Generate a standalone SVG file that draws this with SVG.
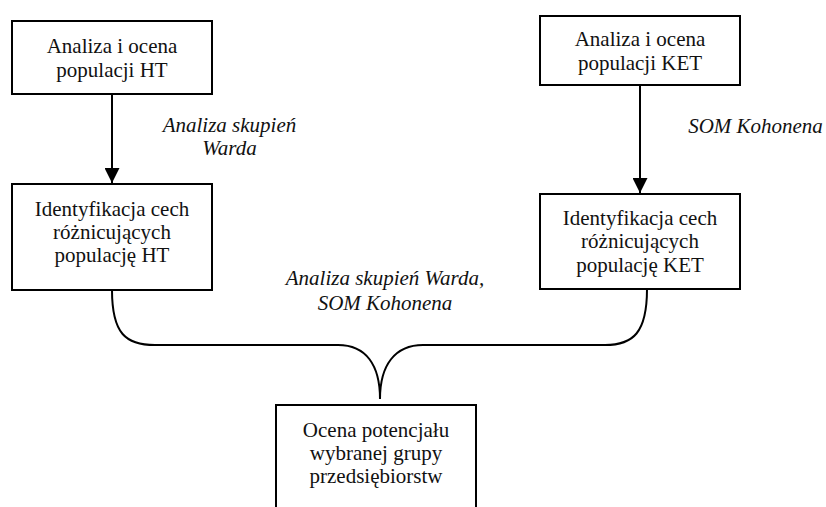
<svg xmlns="http://www.w3.org/2000/svg" width="826" height="507" viewBox="0 0 826 507">
<style>
.box{fill:#fff;stroke:#000;stroke-width:2}
text{font-size:21px;fill:#111;text-anchor:middle}
.i{font-style:italic}
.c{fill:none;stroke:#000;stroke-width:2}
</style>
<defs>
<marker id="ah" viewBox="0 0 15 15" refX="15" refY="7.5" markerWidth="15" markerHeight="15" markerUnits="userSpaceOnUse" orient="auto">
<path d="M0,0 L15,7.5 L0,15 Z" fill="#000"/>
</marker>
</defs>
<rect width="826" height="507" fill="#fff"/>
<g font-family="Liberation Serif">
<g id="connectors">
<line class="c" x1="112" y1="94" x2="112" y2="183" marker-end="url(#ah)"/>
<line class="c" x1="640" y1="85" x2="640" y2="193" marker-end="url(#ah)"/>
<path class="c" d="M112,290 C112,334 126,345 155,345 L338,345 C366,345 380,365 380,399 C380,365 395,345 423,345 L605,345 C633,345 647,333 647,289"/>
<text class="i" x="229.5" y="132">Analiza skupień</text>
<text class="i" x="229.5" y="155">Warda</text>
<text class="i" x="755.5" y="133">SOM Kohonena</text>
<text class="i" x="385" y="285">Analiza skupień Warda,</text>
<text class="i" x="385" y="310">SOM Kohonena</text>
</g>
<g id="ht-analysis">
<rect class="box" x="12" y="21" width="200" height="73"/>
<text x="112" y="53">Analiza i ocena</text>
<text x="112" y="77">populacji HT</text>
</g>
<g id="ket-analysis">
<rect class="box" x="540" y="16" width="200" height="69"/>
<text x="640" y="46">Analiza i ocena</text>
<text x="640" y="70">populacji KET</text>
</g>
<g id="ht-features">
<rect class="box" x="12" y="184" width="200" height="106"/>
<text x="112" y="216">Identyfikacja cech</text>
<text x="112" y="239">różnicujących</text>
<text x="112" y="262">populację HT</text>
</g>
<g id="ket-features">
<rect class="box" x="540" y="194" width="200" height="95"/>
<text x="640" y="225">Identyfikacja cech</text>
<text x="640" y="248">różnicujących</text>
<text x="640" y="272">populację KET</text>
</g>
<g id="potential">
<rect class="box" x="276" y="405" width="200" height="130"/>
<text x="376" y="437">Ocena potencjału</text>
<text x="376" y="460">wybranej grupy</text>
<text x="376" y="483">przedsiębiorstw</text>
</g>
</g>
</svg>
